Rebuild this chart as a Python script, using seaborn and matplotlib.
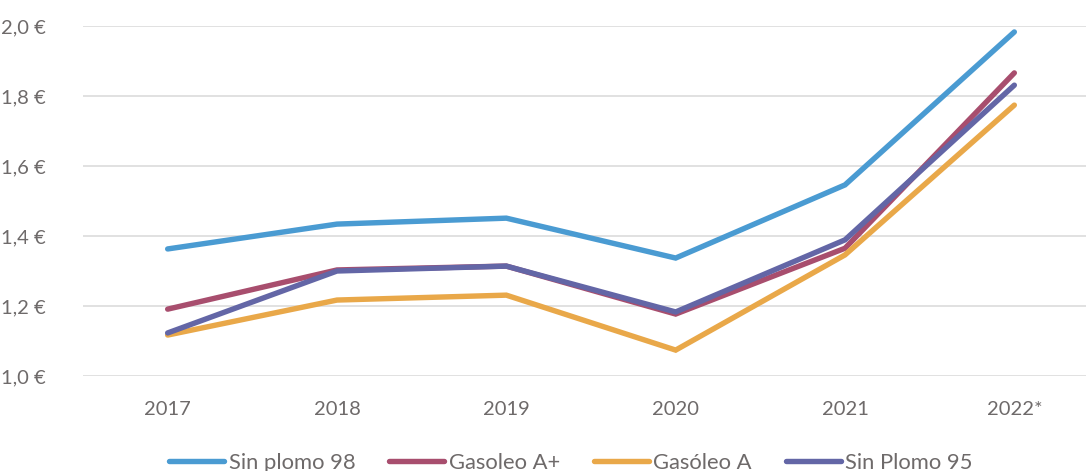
import matplotlib
matplotlib.use("Agg")
import matplotlib.pyplot as plt
import seaborn as sns
import pandas as pd
from matplotlib.ticker import FuncFormatter

years = ["2017", "2018", "2019", "2020", "2021", "2022*"]
sin_plomo_98 = [1.363, 1.434, 1.451, 1.337, 1.546, 1.983]
gasoleo_a_plus = [1.191, 1.303, 1.314, 1.177, 1.365, 1.866]
gasoleo_a = [1.117, 1.217, 1.231, 1.074, 1.346, 1.774]
sin_plomo_95 = [1.123, 1.300, 1.314, 1.183, 1.389, 1.831]

series_names = ["Sin plomo 98", "Gasoleo A+", "Gasóleo A", "Sin Plomo 95"]
series_values = [sin_plomo_98, gasoleo_a_plus, gasoleo_a, sin_plomo_95]
colors = ["#4A9BD2", "#A84E6E", "#E9A849", "#6366A6"]

rows = []
for name, vals in zip(series_names, series_values):
    for y, v in zip(years, vals):
        rows.append({"Año": y, "Precio": v, "Serie": name})
df = pd.DataFrame(rows)

sns.set_theme(style="white")
plt.rcParams["font.family"] = ["Lato", "DejaVu Sans"]
text_color = "#6E6A6A"

fig = plt.figure(figsize=(10.86, 4.71), dpi=100)
ax = fig.add_axes([83 / 1086, 95 / 471, 1016 / 1086, 350 / 471])

sns.lineplot(data=df, x="Año", y="Precio", hue="Serie", hue_order=series_names,
             palette=colors, linewidth=3.9, sort=False, ax=ax, legend=True,
             solid_capstyle="round", solid_joinstyle="miter")

ax.set_ylim(1.0, 2.0)
ax.set_xlim(-0.5, 5.5)
ax.set_yticks([1.0, 1.2, 1.4, 1.6, 1.8, 2.0])
ax.yaxis.set_major_formatter(FuncFormatter(lambda v, p: f"{v:.1f} €".replace(".", ",")))
ax.grid(axis="y", color="#D9D9D9", linewidth=1.1)
ax.set_axisbelow(True)
for s in ax.spines.values():
    s.set_visible(False)
ax.set_xlabel("")
ax.set_ylabel("")
ax.tick_params(axis="both", length=0, labelsize=14.5, colors=text_color)
ax.tick_params(axis="x", pad=18)
ax.tick_params(axis="y", pad=27)
for line in ax.get_lines():
    line.set_clip_on(False)

handles, labels = ax.get_legend_handles_labels()
for h in handles:
    h.set_linewidth(3.9)
    h.set_solid_capstyle("round")
ax.legend(handles, labels, loc="center", bbox_to_anchor=(571 / 1086, 8 / 471),
          bbox_transform=fig.transFigure, ncol=4, frameon=False, fontsize=15.8,
          handlelength=2.5, handletextpad=0.2, columnspacing=1.55,
          labelcolor=text_color, borderaxespad=0)

fig.savefig("out.png", dpi=100)
